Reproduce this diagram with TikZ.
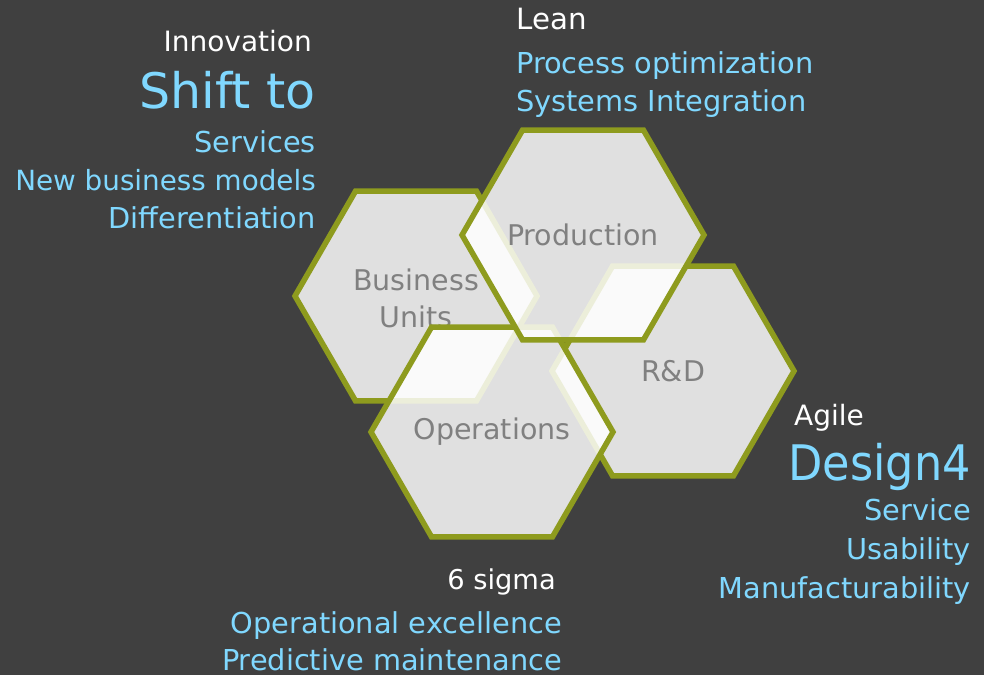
\documentclass[tikz,border=0pt]{standalone}
\usepackage{fontspec}
\setmainfont{DejaVu Sans}
\newfontfamily\narrowfont{DejaVu Sans}[FakeStretch=0.91]
\usetikzlibrary{shapes.geometric}
\definecolor{bgc}{HTML}{404040}
\definecolor{olive}{HTML}{8E9B1E}
\definecolor{skyb}{HTML}{80D8FF}
\definecolor{lblgray}{HTML}{808080}
\tikzset{
  hexa/.style={regular polygon, regular polygon sides=6, minimum size=242pt, inner sep=0pt,
    draw=olive, line width=5.5pt, fill=white, fill opacity=0.84},
  hexlbl/.style={text=lblgray, inner sep=0pt, font=\fontsize{28.5}{37}\selectfont, align=center},
  whitetxt/.style={text=white, inner sep=0pt, font=\fontsize{28}{34}\selectfont},
  bluetxt/.style={text=skyb, inner sep=0pt, font=\fontsize{28.8}{34}\selectfont},
  bigtxt/.style={text=skyb, inner sep=0pt, font=\fontsize{49}{60}\selectfont},
}
\begin{document}
\begin{tikzpicture}[x=1pt,y=-1pt]
\fill[bgc] (0,0) rectangle (984,675);
\useasboundingbox (0,0) rectangle (984,675);
\node[hexa] (bu) at (416,296) {};
\node[hexlbl] (bulbl) at ([yshift=-2pt]bu.center) {Business\\Units};
\node[hexa] (rd) at (673,371) {};
\node[hexlbl] (rdlbl) at (rd.center) {R\&D};
\node[hexa] (op) at (492,432) {};
\node[hexlbl] (oplbl) at (op.center) {Operations};
\node[hexa] (pr) at (583,235) {};
\node[hexlbl] (prlbl) at (pr.center) {Production};

\node[whitetxt, anchor=base east] (innov) at (312,51) {Innovation};
\node[bigtxt, anchor=base east] (shift) at (316,108) {Shift to};
\node[bluetxt, anchor=base east] (serv) at (316,152) {Services};
\node[bluetxt, anchor=base east, font=\fontsize{27.8}{34}\selectfont] (nbm) at (316,190) {New business models};
\node[bluetxt, anchor=base east] (diff) at (316,228) {Differentiation};

\node[whitetxt, anchor=base west, font=\fontsize{29.3}{34}\selectfont] (lean) at (516,29) {Lean};
\node[bluetxt, anchor=base west] (proc) at (516,73) {Process optimization};
\node[bluetxt, anchor=base west] (sysi) at (516,111) {Systems Integration};

\node[whitetxt, anchor=base west] (agile) at (794,425) {Agile};
\node[bigtxt, anchor=base east, font=\fontsize{49}{60}\narrowfont] (des) at (971,480) {Design4};
\node[bluetxt, anchor=base east] (svc) at (971,520) {Service};
\node[bluetxt, anchor=base east] (usa) at (971,559) {Usability};
\node[bluetxt, anchor=base east] (man) at (971,598) {Manufacturability};

\node[whitetxt, anchor=base east, font=\fontsize{27.3}{34}\selectfont] (six) at (556,589) {6 sigma};
\node[bluetxt, anchor=base east] (opex) at (562,633) {Operational excellence};
\node[bluetxt, anchor=base east] (pred) at (562,670) {Predictive maintenance};
\end{tikzpicture}
\end{document}
